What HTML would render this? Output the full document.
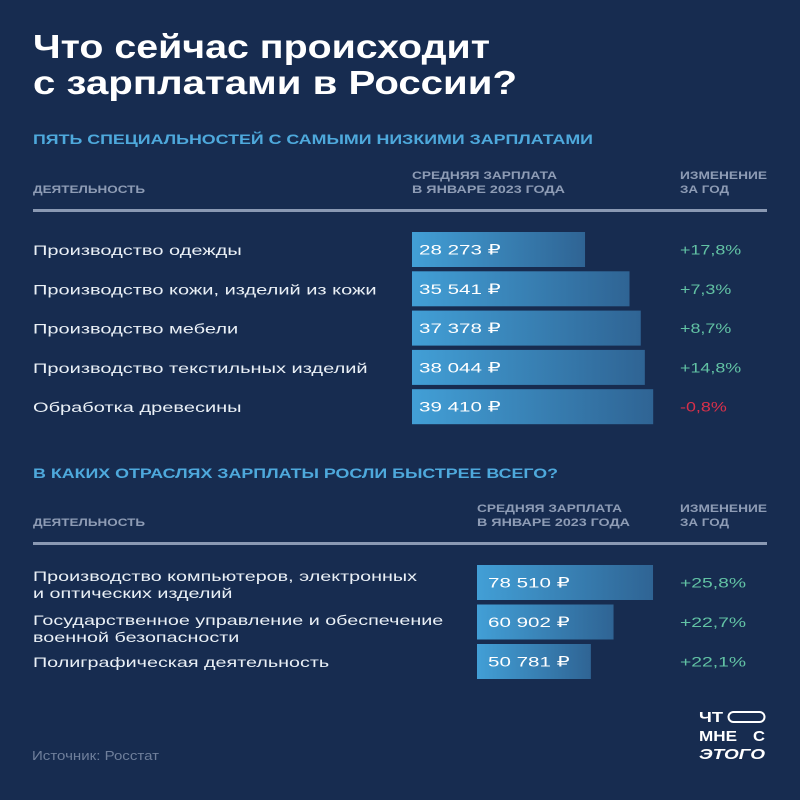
<!DOCTYPE html>
<html lang="ru">
<head>
<meta charset="utf-8">
<title>Что сейчас происходит с зарплатами в России?</title>
<style>
html,body{margin:0;padding:0;background:#172c50;}
svg{display:block;font-family:"Liberation Sans","DejaVu Sans",sans-serif;}
</style>
</head>
<body>
<svg id="chart" width="800" height="800" viewBox="0 0 800 800" xmlns="http://www.w3.org/2000/svg">
  <defs>
    <linearGradient id="barFill" x1="0" x2="1" y1="0" y2="0">
      <stop offset="0" stop-color="#429fd6"/>
      <stop offset="1" stop-color="#2f6494"/>
    </linearGradient>
  </defs>
  <rect width="800" height="800" fill="#172c50"/>

  <g fill="#ffffff" font-weight="700" font-size="33">
    <text x="33" y="58" textLength="457" lengthAdjust="spacingAndGlyphs">Что сейчас происходит</text>
    <text x="33" y="94" textLength="484" lengthAdjust="spacingAndGlyphs">с зарплатами в России?</text>
  </g>

  <text x="33" y="144" fill="#4ea9dc" font-weight="700" font-size="13.5" textLength="560" lengthAdjust="spacingAndGlyphs">ПЯТЬ СПЕЦИАЛЬНОСТЕЙ С САМЫМИ НИЗКИМИ ЗАРПЛАТАМИ</text>
  <g fill="#8e9cb5" font-weight="700" font-size="11">
    <text x="33" y="193" textLength="112" lengthAdjust="spacingAndGlyphs">ДЕЯТЕЛЬНОСТЬ</text>
    <text x="412" y="179" textLength="145" lengthAdjust="spacingAndGlyphs">СРЕДНЯЯ ЗАРПЛАТА</text>
    <text x="412" y="193" textLength="153" lengthAdjust="spacingAndGlyphs">В ЯНВАРЕ 2023 ГОДА</text>
    <text x="680" y="179" textLength="87" lengthAdjust="spacingAndGlyphs">ИЗМЕНЕНИЕ</text>
    <text x="680" y="193" textLength="49" lengthAdjust="spacingAndGlyphs">ЗА ГОД</text>
  </g>
  <rect x="33" y="209" width="734" height="3" fill="#8a99b3"/>
  <g id="rowsLowest"></g>

  <text x="33" y="478" fill="#4ea9dc" font-weight="700" font-size="13.5" textLength="525" lengthAdjust="spacingAndGlyphs">В КАКИХ ОТРАСЛЯХ ЗАРПЛАТЫ РОСЛИ БЫСТРЕЕ ВСЕГО?</text>
  <g fill="#8e9cb5" font-weight="700" font-size="11">
    <text x="33" y="526" textLength="112" lengthAdjust="spacingAndGlyphs">ДЕЯТЕЛЬНОСТЬ</text>
    <text x="477" y="512" textLength="145" lengthAdjust="spacingAndGlyphs">СРЕДНЯЯ ЗАРПЛАТА</text>
    <text x="477" y="526" textLength="153" lengthAdjust="spacingAndGlyphs">В ЯНВАРЕ 2023 ГОДА</text>
    <text x="680" y="512" textLength="87" lengthAdjust="spacingAndGlyphs">ИЗМЕНЕНИЕ</text>
    <text x="680" y="526" textLength="49" lengthAdjust="spacingAndGlyphs">ЗА ГОД</text>
  </g>
  <rect x="33" y="542" width="734" height="3" fill="#8a99b3"/>
  <g id="rowsFastest"></g>

  <text x="32" y="760" fill="#6f7f9b" font-size="12.5" textLength="127" lengthAdjust="spacingAndGlyphs">Источник: Росстат</text>

  <g fill="#ffffff" font-weight="700" font-size="15">
    <text x="699" y="722" textLength="24" lengthAdjust="spacingAndGlyphs">ЧТ</text>
    <rect x="728.5" y="712" width="36" height="10" rx="5" fill="none" stroke="#ffffff" stroke-width="2"/>
    <text x="699" y="741" textLength="38" lengthAdjust="spacingAndGlyphs">МНЕ</text>
    <text x="753" y="741" textLength="12" lengthAdjust="spacingAndGlyphs">С</text>
    <text x="699" y="759" textLength="66" lengthAdjust="spacingAndGlyphs" font-style="italic">ЭТОГО</text>
  </g>
</svg>
<script>
const lowestLabels = [["Производство одежды"], ["Производство кожи, изделий из кожи"], ["Производство мебели"], ["Производство текстильных изделий"], ["Обработка древесины"]];
const lowestSalaries = [28273, 35541, 37378, 38044, 39410];
const lowestChanges = [17.8, 7.3, 8.7, 14.8, -0.8];

const fastestLabels = [["Производство компьютеров, электронных", "и оптических изделий"], ["Государственное управление и обеспечение", "военной безопасности"], ["Полиграфическая деятельность"]];
const fastestSalaries = [78510, 60902, 50781];
const fastestChanges = [25.8, 22.7, 22.1];

const NS = "http://www.w3.org/2000/svg";

function fmtSalary(v) {
  const s = String(v);
  return s.slice(0, -3) + "\u00a0" + s.slice(-3) + " \u20bd";
}
function fmtChange(v) {
  const s = Math.abs(v).toFixed(1).replace(".", ",");
  return (v < 0 ? "-" : "+") + s + "%";
}
function addText(parent, x, y, str, size, fill, wide) {
  const t = document.createElementNS(NS, "text");
  t.setAttribute("transform", "translate(" + x + " " + y + ") scale(" + wide + " 1)");
  t.setAttribute("font-size", size);
  t.setAttribute("fill", fill);
  t.textContent = str;
  parent.appendChild(t);
  return t;
}
function drawTable(rootId, labels, salaries, changes, cfg) {
  const root = document.getElementById(rootId);
  const xScale = function (v) { return v * cfg.pxPerUnit; };
  const yBand = function (i) { return cfg.top + i * cfg.step; };
  salaries.forEach(function (value, i) {
    const y = yBand(i);
    const mid = y + cfg.barH / 2;

    const row = document.createElementNS(NS, "g");
    
    
    root.appendChild(row);

    const lines = labels[i];
    lines.forEach(function (line, k) {
      const ly = mid + 5.5 + (k - (lines.length - 1) / 2) * 17 + (lines.length > 1 ? cfg.twoLineShift + i * cfg.twoLineDrift : 0);
      const lab = addText(row, 33, ly, line, cfg.labelSize, "#eaf0f6", cfg.labelWide);
      
      
    });

    const bar = document.createElementNS(NS, "rect");
    
    
    bar.setAttribute("x", cfg.barX);
    bar.setAttribute("y", y);
    bar.setAttribute("width", xScale(value));
    bar.setAttribute("height", cfg.barH);
    bar.setAttribute("fill", "url(#barFill)");
    row.appendChild(bar);

    const val = addText(row, cfg.barX + cfg.valPad, mid + 5, fmtSalary(value), 14, "#ffffff", cfg.valueWide);
    
    

    const chg = addText(row, 680, mid + 5, fmtChange(changes[i]), 14, changes[i] < 0 ? "#d9304a" : "#62c2a4", cfg.changeWide);
    
    
  });
}
drawTable("rowsLowest", lowestLabels, lowestSalaries, lowestChanges, {
  barX: 412, pxPerUnit: 0.00612, top: 232, step: 39.3, barH: 35, labelSize: 14, labelWide: 1.43,
  valueWide: 1.47, changeWide: 1.28, valPad: 7, twoLineShift: 0, twoLineDrift: 0
});
drawTable("rowsFastest", fastestLabels, fastestSalaries, fastestChanges, {
  barX: 477, pxPerUnit: 0.002242, top: 565, step: 39.5, barH: 35, labelSize: 14, labelWide: 1.41,
  valueWide: 1.47, changeWide: 1.38, valPad: 11, twoLineShift: 1.5, twoLineDrift: 4.5
});
</script>
</body>
</html>
